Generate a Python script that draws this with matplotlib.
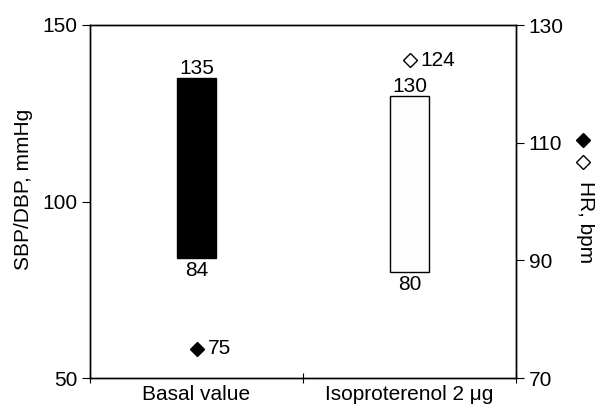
import matplotlib
matplotlib.use("Agg")
from matplotlib import pyplot as plt

plt.rcParams['font.family'] = ['Liberation Sans', 'DejaVu Sans']
plt.rcParams['font.size'] = 15

groups = ["Basal value", "Isoproterenol 2 \u03bcg"]
sbp = [135, 130]
dbp = [84, 80]
hr = [75, 124]
bar_colors = ['black', '#fdfdfd']
hr_colors = ['black', 'white']

fig = plt.figure(figsize=(5.95, 4.13), dpi=100)
ax = fig.add_axes([90/595, 35/413, 426/595, 353/413])
ax2 = ax.twinx()

xs = [0.5, 1.5]
ax.bar(xs, [s - d for s, d in zip(sbp, dbp)], bottom=dbp, width=0.18,
       color=bar_colors, edgecolor='black', linewidth=1)

for x, s, d in zip(xs, sbp, dbp):
    ax.annotate(str(s), xy=(x, s), xytext=(0, 0), textcoords='offset points',
                ha='center', va='bottom')
    ax.annotate(str(d), xy=(x, d), xytext=(0, -2), textcoords='offset points',
                ha='center', va='top')

for x, h, c in zip(xs, hr, hr_colors):
    ax2.plot(x, h, marker='D', markersize=7, color=c, markeredgecolor='black',
             markeredgewidth=1, linestyle='none')
    ax2.annotate(str(h), xy=(x, h), xytext=(8, 0), textcoords='offset points',
                 ha='left', va='center')

ax.set_xlim(0, 2)
ax.set_ylim(50, 150)
ax.set_yticks([50, 100, 150])
ax.set_xticks([0, 1, 2])
ax.set_xticklabels([])
ax.set_xticks(xs, minor=True)
ax.set_xticklabels(groups, minor=True)
ax.tick_params(axis='x', which='minor', length=0, pad=5)
ax.tick_params(axis='x', which='major', length=7, direction='inout')
ax.tick_params(axis='y', length=6, direction='out', pad=3)
ax.set_ylabel('SBP/DBP, mmHg')
ax.yaxis.set_label_coords(-0.134, 0.533)

ax2.set_ylim(70, 130)
ax2.set_yticks([70, 90, 110, 130])
ax2.tick_params(axis='y', length=6, direction='out', pad=3)

for a in (ax, ax2):
    for sp in a.spines.values():
        sp.set_linewidth(1)

# HR label with diamond keys
fig.text(585/595, 1 - 222/413, 'HR, bpm', rotation=-90, ha='center', va='center')
fig.lines.append(plt.Line2D([583/595], [1 - 140/413], marker='D', markersize=7,
                            color='black', transform=fig.transFigure))
fig.lines.append(plt.Line2D([583/595], [1 - 162/413], marker='D', markersize=7,
                            color='black', markerfacecolor='white',
                            transform=fig.transFigure))

fig.savefig('out.png', dpi=100)
